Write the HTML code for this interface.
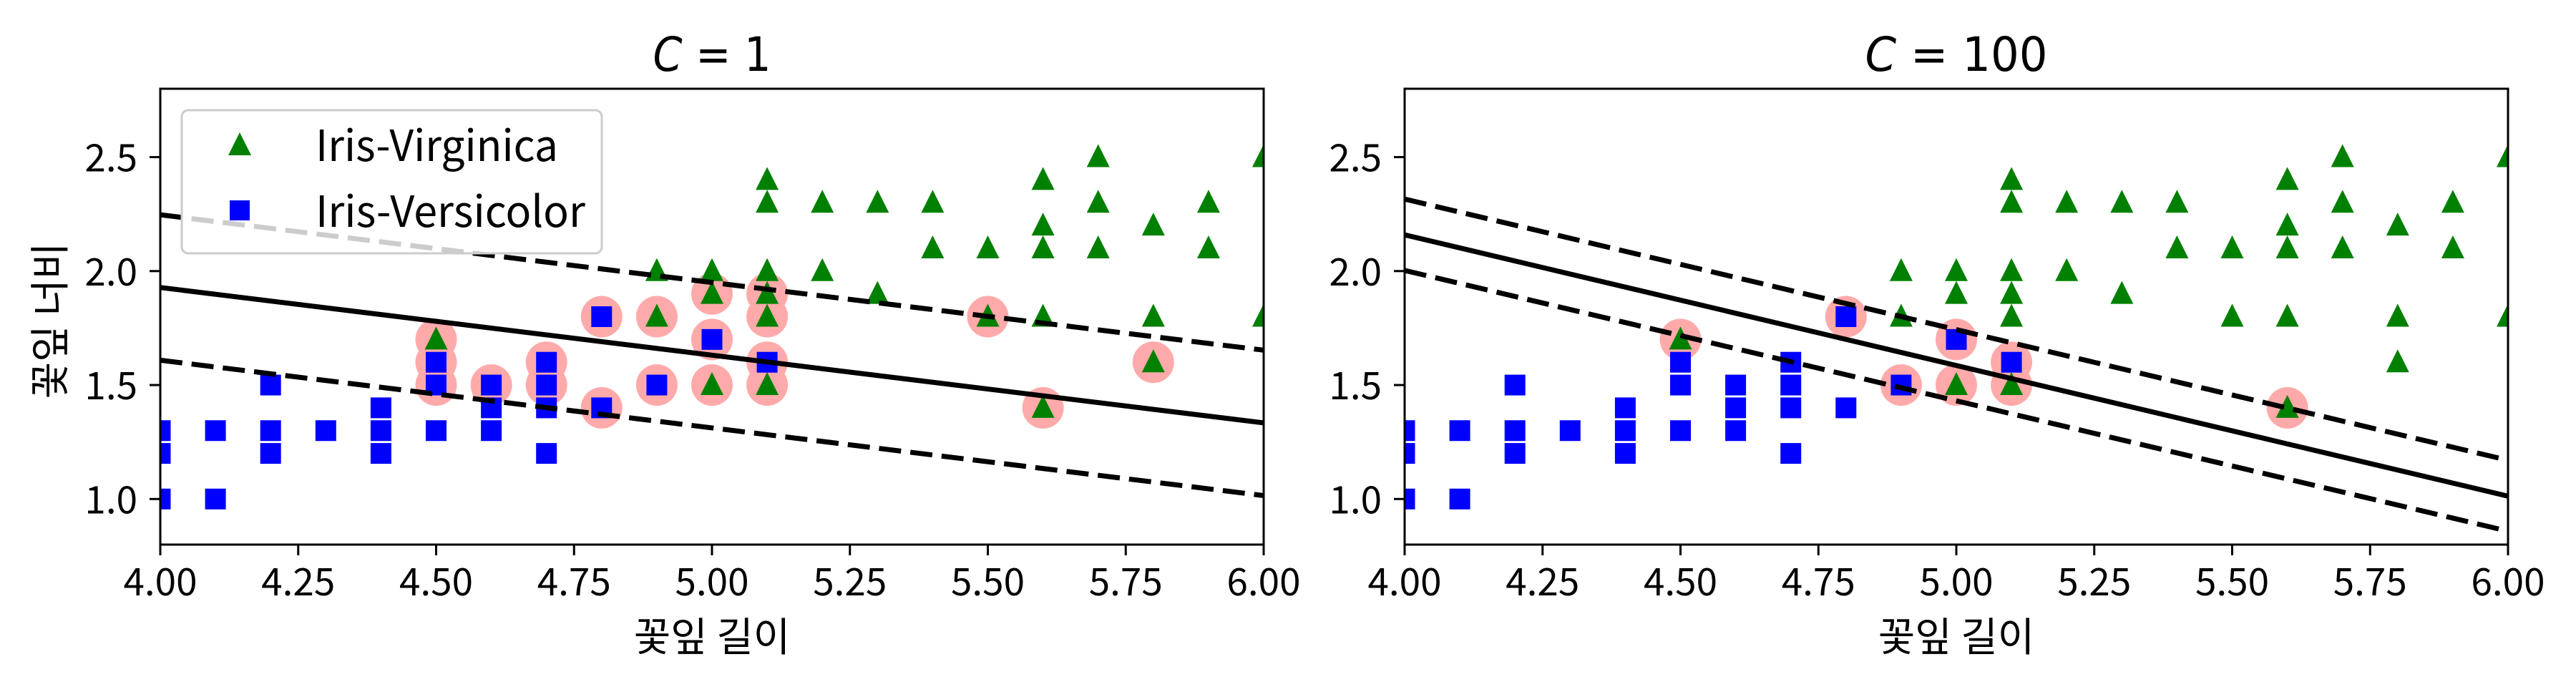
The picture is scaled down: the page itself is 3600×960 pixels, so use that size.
<!DOCTYPE html>
<html><head><meta charset="utf-8"><style>
html,body{margin:0;padding:0;background:#fff;}
svg{display:block;}
text{font-family:"Noto Sans CJK KR","Liberation Sans",sans-serif;fill:#000;}
</style></head><body>
<svg id="s" xmlns="http://www.w3.org/2000/svg" width="3600" height="960" viewBox="0 0 3600 960"></svg>
<script>
const S=document.getElementById('s');
let h='';
const T=124,B=761,W=1542,U=318.5;
const vers=[[4.0,1.3],[4.0,1.2],[4.0,1.0],[4.1,1.3],[4.1,1.0],[4.2,1.5],[4.2,1.3],[4.2,1.2],[4.3,1.3],[4.4,1.4],[4.4,1.3],[4.4,1.2],[4.5,1.6],[4.5,1.5],[4.5,1.3],[4.6,1.5],[4.6,1.4],[4.6,1.3],[4.7,1.6],[4.7,1.5],[4.7,1.4],[4.7,1.2],[4.8,1.8],[4.8,1.4],[4.9,1.5],[5.0,1.7],[5.1,1.6]];
const virg=[[4.5,1.7],[4.9,2.0],[4.9,1.8],[5.0,2.0],[5.0,1.9],[5.0,1.5],[5.1,2.4],[5.1,2.3],[5.1,2.0],[5.1,1.9],[5.1,1.8],[5.1,1.5],[5.2,2.3],[5.2,2.0],[5.3,2.3],[5.3,1.9],[5.4,2.3],[5.4,2.1],[5.5,2.1],[5.5,1.8],[5.6,2.4],[5.6,2.2],[5.6,2.1],[5.6,1.8],[5.6,1.4],[5.7,2.5],[5.7,2.3],[5.7,2.1],[5.8,2.2],[5.8,1.8],[5.8,1.6],[5.9,2.3],[5.9,2.1],[6.0,2.5],[6.0,1.8]];
const sv1=[[4.5,1.7],[4.5,1.6],[4.5,1.5],[4.6,1.5],[4.7,1.6],[4.7,1.5],[4.8,1.8],[4.8,1.4],[4.9,1.8],[4.9,1.5],[5.0,1.9],[5.0,1.7],[5.0,1.5],[5.1,1.9],[5.1,1.8],[5.1,1.6],[5.1,1.5],[5.5,1.8],[5.6,1.4],[5.8,1.6]];
const sv2=[[4.5,1.7],[4.8,1.8],[4.9,1.5],[5.0,1.7],[5.0,1.5],[5.1,1.6],[5.1,1.5],[5.6,1.4]];
function tri(cx,cy){return `<polygon points="${cx},${cy-18} ${cx-16},${cy+14} ${cx+16},${cy+14}" fill="#008000"/>`;}
function sq(cx,cy){return `<rect x="${cx-14.5}" y="${cy-14.5}" width="29" height="29" fill="#0000ff"/>`;}
function panel(X0,sv,lines,title,tw,ylab,legend){
  const px=x=>X0+(x-4)/2*W, py=y=>T+(2.8-y)*U;
  const id='c'+X0;
  h+=`<clipPath id="${id}"><rect x="${X0}" y="${T}" width="${W}" height="${B-T}"/></clipPath><g clip-path="url(#${id})">`;
  sv.forEach(p=>h+=`<circle cx="${px(p[0])}" cy="${py(p[1])}" r="29" fill="#ffaaaa"/>`);
  vers.forEach(p=>h+=sq(px(p[0]),py(p[1])));
  virg.forEach(p=>h+=tri(px(p[0]),py(p[1])));
  lines.forEach((l,i)=>h+=`<line x1="${X0}" y1="${py(l[0])}" x2="${X0+W}" y2="${py(l[1])}" stroke="#000" stroke-width="7" ${i>0?'stroke-dasharray="31 13"':''}/>`);
  h+='</g>';
  h+=`<rect x="${X0}" y="${T}" width="${W}" height="${B-T}" fill="none" stroke="#000" stroke-width="3"/>`;
  for(let i=0;i<=8;i++){const x=X0+i*W/8;
    h+=`<line x1="${x}" y1="${B}" x2="${x}" y2="${B+15}" stroke="#000" stroke-width="3"/>`;
    h+=`<text x="${x}" y="832" font-size="53" text-anchor="middle">${(4+i*0.25).toFixed(2)}</text>`;}
  [1.0,1.5,2.0,2.5].forEach(v=>{const y=py(v);
    h+=`<line x1="${X0-15}" y1="${y}" x2="${X0}" y2="${y}" stroke="#000" stroke-width="3"/>`;
    h+=`<text x="${X0-32}" y="${y+20}" font-size="53" text-anchor="end">${v.toFixed(1)}</text>`;});
  const cx=X0+W/2;
  h+=`<text x="${cx}" y="99" font-size="66" text-anchor="middle" textLength="${tw}" lengthAdjust="spacingAndGlyphs" style="font-family:'DejaVu Sans',sans-serif"><tspan font-style="italic">C</tspan> = ${title}</text>`;
  h+=`<text x="${cx}" y="910" font-size="56" text-anchor="middle">꽃잎 길이</text>`;
  if(ylab) h+=`<text transform="translate(90,448) rotate(-90)" font-size="56" text-anchor="middle">꽃잎 너비</text>`;
  if(legend){
    h+=`<rect x="254" y="154" width="587" height="200" rx="9" fill="#fff" fill-opacity="0.8" stroke="#cccccc" stroke-width="3"/>`;
    h+=tri(335,203);
    h+=`<rect x="321" y="280" width="28" height="28" fill="#0000ff"/>`;
    h+=`<text x="441" y="225" font-size="60" textLength="339" lengthAdjust="spacingAndGlyphs">Iris-Virginica</text>`;
    h+=`<text x="441" y="317" font-size="60" textLength="377" lengthAdjust="spacingAndGlyphs">Iris-Versicolor</text>`;
  }
}
panel(224,sv1,[[1.928,1.334],[2.247,1.653],[1.609,1.015]],'1',165,true,true);
panel(1963,sv2,[[2.159,1.0125],[2.316,1.17],[2.003,0.859]],'100',255,false,false);
S.innerHTML=h;
</script>
</body></html>
